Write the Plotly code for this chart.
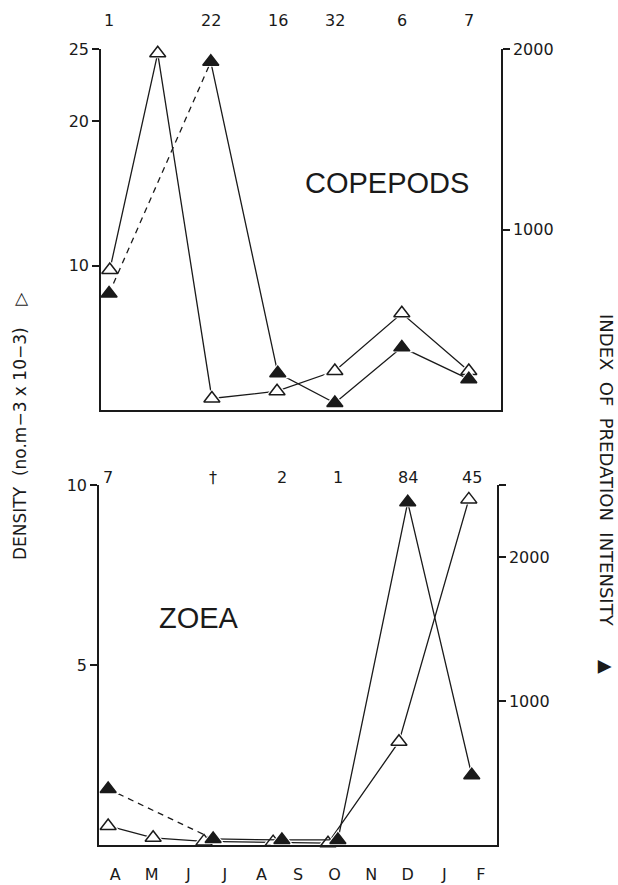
import plotly.graph_objects as go

W, H = 618, 885

# ---- data (x = month index, 0 = April) ----
months = ["A", "M", "J", "J", "A", "S", "O", "N", "D", "J", "F"]

cop_density_x = [-0.14, 1.17, 2.65, 4.43, 6.01, 7.84, 9.67]
cop_density_y = [9.7, 24.7, 0.8, 1.3, 2.7, 6.7, 2.7]
cop_index_x = [-0.16, 2.62, 4.45, 6.01, 7.84, 9.67]
cop_index_y = [645, 1929, 204, 39, 347, 171]
cop_counts = ["1", "22", "16", "32", "6", "7"]

zoea_density_x = [-0.19, 1.04, 2.43, 4.32, 5.82, 7.76, 9.67]
zoea_density_y = [0.53, 0.2, 0.1, 0.08, 0.05, 2.87, 9.6]
zoea_index_x = [-0.19, 2.68, 4.56, 6.09, 8.0, 9.75]
zoea_index_y = [389, 42, 35, 35, 2380, 485]
zoea_counts = ["7", "†", "2", "1", "84", "45"]

INK = "#1a1a1a"
TICKFONT = dict(family="DejaVu Sans", size=16, color=INK)
LW = 1.3
MS = 14

fig = go.Figure()


def add_series(x, y, xa, ya, filled, dashed_first):
    if dashed_first:
        fig.add_trace(go.Scatter(x=x[:2], y=y[:2], xaxis=xa, yaxis=ya, mode="lines",
                                 line=dict(color=INK, width=LW, dash="6px,5px"),
                                 showlegend=False, hoverinfo="skip", cliponaxis=False))
        fig.add_trace(go.Scatter(x=x[1:], y=y[1:], xaxis=xa, yaxis=ya, mode="lines",
                                 line=dict(color=INK, width=LW),
                                 showlegend=False, hoverinfo="skip", cliponaxis=False))
    else:
        fig.add_trace(go.Scatter(x=x, y=y, xaxis=xa, yaxis=ya, mode="lines",
                                 line=dict(color=INK, width=LW),
                                 showlegend=False, hoverinfo="skip", cliponaxis=False))
    fig.add_trace(go.Scatter(x=x, y=y, xaxis=xa, yaxis=ya, mode="markers",
                             marker=dict(symbol="triangle-up", size=MS + 6, color="white",
                                         line=dict(width=0)),
                             showlegend=False, hoverinfo="skip", cliponaxis=False))
    fig.add_trace(go.Scatter(x=x, y=y, xaxis=xa, yaxis=ya, mode="markers",
                             marker=dict(symbol="triangle-up", size=MS,
                                         color=INK if filled else "white",
                                         line=dict(color=INK, width=1.5)),
                             showlegend=False, cliponaxis=False))


add_series(cop_density_x, cop_density_y, "x", "y", False, False)
add_series(cop_index_x, cop_index_y, "x", "y2", True, True)
add_series(zoea_density_x, zoea_density_y, "x2", "y3", False, False)
add_series(zoea_index_x, zoea_index_y, "x2", "y4", True, True)


def px_x(p):
    return p / W


def px_y(p):
    return 1 - p / H


axis_common = dict(showline=True, linecolor=INK, linewidth=1.5, showgrid=False,
                   zeroline=False, tickfont=TICKFONT, ticks="outside",
                   ticklen=7, tickcolor=INK, tickwidth=1.5)

fig.update_layout(
    width=W, height=H, margin=dict(l=0, r=0, t=0, b=0, autoexpand=False),
    paper_bgcolor="white", plot_bgcolor="white", showlegend=False,
    xaxis=dict(domain=[px_x(101), px_x(501)], range=[-0.38, 10.55], anchor="y",
               showline=True, linecolor=INK, linewidth=1.5, showgrid=False,
               zeroline=False, showticklabels=False, ticks=""),
    yaxis=dict(domain=[px_y(410), px_y(49)], range=[0, 25], anchor="x",
               tickvals=[10, 20, 25], **axis_common),
    yaxis2=dict(overlaying="y", side="right", range=[0, 2000], anchor="x",
                tickvals=[1000, 2000], **axis_common),
    xaxis2=dict(domain=[px_x(99), px_x(497)], range=[-0.44, 10.44], anchor="y3",
                showline=True, linecolor=INK, linewidth=1.5, showgrid=False,
                zeroline=False, tickvals=list(range(len(months))), ticktext=months,
                ticks="", tickfont=TICKFONT, ticklabelstandoff=14),
    yaxis3=dict(domain=[px_y(845), px_y(485)], range=[0, 10], anchor="x2",
                tickvals=[5, 10], **axis_common),
    yaxis4=dict(overlaying="y3", side="right", range=[0, 2500], anchor="x2",
                tickvals=[1000, 2000, 2500], ticktext=["1000", "2000", ""], **axis_common),
)

ann = []
for xv, t in zip(cop_index_x, cop_counts):
    ann.append(dict(x=xv, y=px_y(21), xref="x", yref="paper", text=t, showarrow=False,
                    font=TICKFONT, xanchor="center", yanchor="middle"))
for xv, t in zip(zoea_index_x, zoea_counts):
    ann.append(dict(x=xv, y=px_y(477), xref="x2", yref="paper", text=t, showarrow=False,
                    font=TICKFONT, xanchor="center", yanchor="middle"))

big = dict(family="Liberation Sans", size=29, color=INK)
ann.append(dict(x=px_x(387), y=px_y(183), xref="paper", yref="paper", text="COPEPODS",
                showarrow=False, font=big, xanchor="center", yanchor="middle"))
ann.append(dict(x=px_x(199), y=px_y(618), xref="paper", yref="paper", text="ZOEA",
                showarrow=False, font=big, xanchor="center", yanchor="middle"))

ann.append(dict(x=px_x(20), y=px_y(426), xref="paper", yref="paper",
                text="DENSITY  (no.m−3 x 10−3)    ▷", textangle=-90, showarrow=False,
                font=dict(family="DejaVu Sans", size=17, color=INK),
                xanchor="center", yanchor="middle"))
ann.append(dict(x=px_x(607), y=px_y(494), xref="paper", yref="paper",
                text="INDEX  OF  PREDATION  INTENSITY      ▲", textangle=90, showarrow=False,
                font=dict(family="DejaVu Sans", size=18, color=INK),
                xanchor="center", yanchor="middle"))

fig.update_layout(annotations=ann)
fig.write_html("out.html", config={"displayModeBar": False},
               post_script="document.body.style.margin='0';document.body.style.padding='0';"
                           "document.documentElement.style.overflow='hidden';")
